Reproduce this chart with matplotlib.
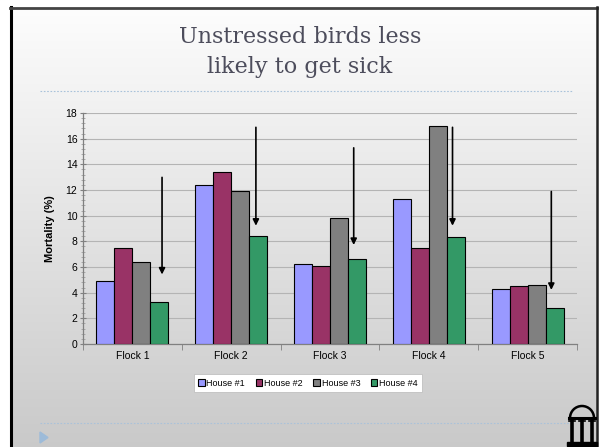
import numpy as np
import matplotlib
matplotlib.use("Agg")
import matplotlib.pyplot as plt
from matplotlib.patches import Rectangle, Arc, Polygon

plt.rcParams['font.family'] = ['Liberation Sans', 'DejaVu Sans']

# Daten
flocks = ['Flock 1', 'Flock 2', 'Flock 3', 'Flock 4', 'Flock 5']
houses = ['House #1', 'House #2', 'House #3', 'House #4']
house1 = [4.9, 12.4, 6.2, 11.3, 4.3]
house2 = [7.5, 13.4, 6.1, 7.5, 4.5]
house3 = [6.4, 11.9, 9.8, 17.0, 4.6]
house4 = [3.3, 8.4, 6.6, 8.3, 2.8]
colors = ['#9999ff', '#993366', '#808080', '#339966']

# Pfeile (Start- und Endwert in %)
arrow_top = [13.2, 17.1, 15.5, 17.1, 12.1]
arrow_tip = [5.2, 9.0, 7.5, 9.0, 4.0]
arrow_off = [0.30, 0.25, 0.24, 0.24, 0.24]

W, H = 600, 447
fig = plt.figure(figsize=(6, 4.47), dpi=100)

# Hintergrund mit Verlauf
bg = fig.add_axes([0, 0, 1, 1], zorder=-10)
grad = np.linspace(0.995, 0.79, 256).reshape(-1, 1)
bg.imshow(np.dstack([grad, grad, grad]), aspect='auto', extent=[0, W, 0, H])
bg.set_xlim(0, W)
bg.set_ylim(0, H)
bg.axis('off')
# weisser Rand und Rahmen
bg.add_patch(Rectangle((0, H - 6), W, 6, color='white', zorder=1))
bg.add_patch(Rectangle((0, 0), 10, H, color='white', zorder=1))
bg.add_patch(Rectangle((598, 0), 2, H, color='white', zorder=1))
bg.plot([11, 11], [0, H - 7], color='black', lw=2.2, zorder=2)
bg.plot([10, 597], [H - 7.5, H - 7.5], color='#444444', lw=2.0, zorder=2)
bg.plot([597, 597], [0, H - 7], color='#222222', lw=1.8, zorder=2)

# gepunktete Linien
bg.plot([40, 572], [H - 91, H - 91], color='#a9c2da', lw=0.8, ls=(0, (1.5, 1.5)), zorder=2)
bg.plot([40, 572], [H - 423, H - 423], color='#a9c2da', lw=0.8, ls=(0, (1.5, 1.5)), zorder=2)
bg.add_patch(Polygon([[40, H - 432], [40, H - 443], [48, H - 437.5]], color='#9dbbd9', zorder=2))

# Logo (Bogen)
bg.add_patch(Arc((582, H - 418), 24, 24, theta1=0, theta2=180, color='black', lw=1.8, zorder=3))
bg.plot([569, 595], [H - 418, H - 418], color='black', lw=2.2, zorder=3)
for cx in [572, 582, 592]:
    bg.plot([cx, cx], [H - 419, H - 441], color='black', lw=2.6, zorder=3)
    bg.plot([cx - 3, cx + 3], [H - 421, H - 421], color='black', lw=1.2, zorder=3)
bg.add_patch(Rectangle((567, H - 446), 30, 4, color='black', zorder=3))

# Titel
fig.text(0.5, 1 - 37 / H, 'Unstressed birds less', ha='center', va='center',
         fontsize=16, family='DejaVu Serif', color='#4d4d5c')
fig.text(0.5, 1 - 67 / H, 'likely to get sick', ha='center', va='center',
         fontsize=16, family='DejaVu Serif', color='#4d4d5c')

# Diagramm
ax = fig.add_axes([83 / W, 1 - 344 / H, 494 / W, 231 / H])
ax.patch.set_alpha(0)
x = np.arange(len(flocks))
bw = 0.182
for i, (vals, c, lab) in enumerate(zip([house1, house2, house3, house4], colors, houses)):
    ax.bar(x + (i - 1.5) * bw, vals, bw, color=c, edgecolor='black', lw=0.8, label=lab, zorder=3)

for i in range(len(flocks)):
    ax.annotate('', xy=(i + arrow_off[i], arrow_tip[i]), xytext=(i + arrow_off[i], arrow_top[i]),
                arrowprops=dict(arrowstyle='-|>', color='black', lw=1.2, mutation_scale=9),
                zorder=4)

ax.set_xlim(-0.5, len(flocks) - 0.5)
ax.set_ylim(0, 18)
ax.set_yticks(np.arange(0, 19, 2))
ax.set_yticks(np.arange(0, 18.01, 0.4), minor=True)
ax.set_xticks(x)
ax.set_xticklabels(flocks, fontsize=7.5)
ax.set_xticks(np.arange(-0.5, len(flocks), 1.0), minor=True)
ax.tick_params(axis='x', which='major', length=0, pad=5)
ax.tick_params(axis='x', which='minor', length=4, color='#808080', direction='out')
ax.tick_params(axis='y', which='major', labelsize=7.5, length=4, color='#808080', direction='inout', pad=2)
ax.tick_params(axis='y', which='minor', length=3, color='#a0a0a0', direction='inout')
ax.grid(axis='y', which='major', color='#b4b4b4', lw=0.8, zorder=0)
for s in ['top', 'right']:
    ax.spines[s].set_visible(False)
for s in ['left', 'bottom']:
    ax.spines[s].set_color('#808080')
    ax.spines[s].set_linewidth(0.9)
ax.set_ylabel('Mortality (%)', fontsize=8, fontweight='bold', labelpad=8)

leg = fig.legend(loc='center', bbox_to_anchor=(308 / W, 1 - 383 / H), ncol=4, fontsize=6.5,
                 handlelength=0.7, handleheight=0.7, handletextpad=0.2, columnspacing=1.2,
                 fancybox=False, edgecolor='#c0c0c0', framealpha=1, borderpad=0.5)
leg.get_frame().set_linewidth(0.6)

fig.savefig('out.png', dpi=100)
